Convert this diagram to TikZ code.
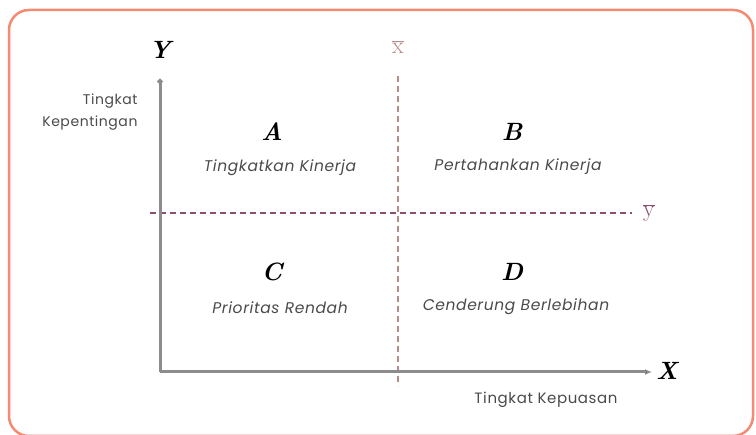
\documentclass[tikz,border=0pt]{standalone}
\usepackage{fontspec}
\usepackage{xcolor}
\usepackage{tikz}
\usetikzlibrary{arrows.meta}
\newfontfamily\labelfont[LetterSpace=4]{Poppins}
\definecolor{framecol}{HTML}{F58A72}
\definecolor{axiscol}{HTML}{8C8C8C}
\definecolor{xbarcol}{HTML}{B88A88}
\definecolor{ybarcol}{HTML}{8E4F6E}
\definecolor{textcol}{HTML}{4A4A4A}

\begin{document}
\begin{tikzpicture}[x=1pt, y=-1pt,
    axisline/.style={draw=axiscol, line width=3pt},
    meanline/.style={dashed, line width=1.3pt, dash pattern=on 6pt off 4pt},
    quadletter/.style={font=\fontsize{25}{25}\selectfont\bfseries\itshape},
    quadtext/.style={font=\labelfont\fontsize{15.5}{17}\selectfont\itshape, text=textcol},
    axistitle/.style={font=\labelfont\fontsize{14}{22}\selectfont, text=textcol}]
    \useasboundingbox (0,0) rectangle (756,435);
    \draw[framecol, line width=2.5pt, rounded corners=20pt] (9,10) rectangle (753,436);

    % axes
    \coordinate (origin) at (160,372);
    \coordinate (ytop) at (160,79);
    \coordinate (xend) at (652,372);
    \draw[meanline, xbarcol] (398,76) coordinate (xbartop) -- (398,386) coordinate (xbarbot);
    \draw[meanline, ybarcol] (150,213) coordinate (ybarleft) -- (632,213) coordinate (ybarright);
    \draw[axisline, -{Circle[length=5pt, fill=black]}] (origin) -- (ytop);
    \draw[axisline, -{Latex[length=7pt, width=6pt, fill=black]}] (origin) -- (xend);

    \node[quadletter] (ylab) at (160,50) {Y};
    \node[quadletter] (xlab) at (667,371) {X};
    \node[font=\fontsize{24}{24}\selectfont, text=xbarcol] (xbar) at (398,47) {$\overline{\mathrm{x}}$};
    \node[font=\fontsize{24}{24}\selectfont, text=ybarcol] (ybar) at (649,213) {$\overline{\mathrm{y}}$};

    \node[axistitle, align=right, anchor=east] (importance) at (141,112) {Tingkat\\Kepentingan};
    \node[axistitle, font=\labelfont\fontsize{15}{17}\selectfont] (satisfaction) at (546,400) {Tingkat Kepuasan};

    % quadrants
    \node[quadletter] (qa) at (272,132) {A};
    \node[quadtext] (qatext) at (280,168) {Tingkatkan Kinerja};
    \node[quadletter] (qb) at (512,132) {B};
    \node[quadtext] (qbtext) at (518,167) {Pertahankan Kinerja};
    \node[quadletter] (qc) at (272,272) {C};
    \node[quadtext] (qctext) at (280,308) {Prioritas Rendah};
    \node[quadletter] (qd) at (512,272) {D};
    \node[quadtext] (qdtext) at (516,307) {Cenderung Berlebihan};
\end{tikzpicture}
\end{document}
